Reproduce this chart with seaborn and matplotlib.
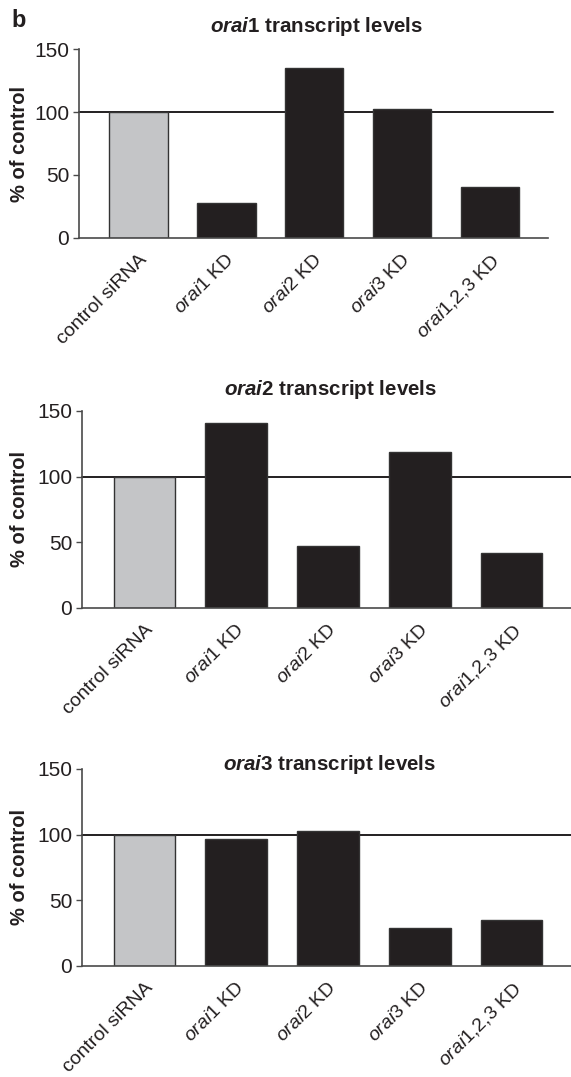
import matplotlib
matplotlib.use("Agg")
import matplotlib.pyplot as plt
import seaborn as sns
import pandas as pd

# ---- data ---------------------------------------------------------------
categories = ["control siRNA", "orai1 KD", "orai2 KD", "orai3 KD", "orai1,2,3 KD"]
tick_labels = ["control siRNA", r"$\mathit{orai}$1 KD", r"$\mathit{orai}$2 KD",
               r"$\mathit{orai}$3 KD", r"$\mathit{orai}$1,2,3 KD"]
orai1_levels = [100, 28, 135, 102.5, 40.5]
orai2_levels = [100, 140.5, 47, 119, 41.8]
orai3_levels = [100, 96.5, 103, 28.6, 34.7]
panel_titles = [r"$\mathbfit{orai}$1 transcript levels",
                r"$\mathbfit{orai}$2 transcript levels",
                r"$\mathbfit{orai}$3 transcript levels"]
y_ticks = [0, 50, 100, 150]
reference_level = 100

# ---- style --------------------------------------------------------------
sns.set_theme(style="white")
plt.rcParams["font.family"] = ["Liberation Sans", "DejaVu Sans"]
plt.rcParams["mathtext.fontset"] = "custom"
plt.rcParams["mathtext.rm"] = "Liberation Sans"
plt.rcParams["mathtext.it"] = "Liberation Sans:italic"
plt.rcParams["mathtext.bf"] = "Liberation Sans:bold"
plt.rcParams["mathtext.bfit"] = "Liberation Sans:italic:bold"

INK = "#231f20"
GREY = "#c4c5c7"
SPINE = "#4a4a4a"
colors = [GREY] + [INK] * 4

W, H = 571, 1077
fig = plt.figure(figsize=(W / 100, H / 100), dpi=100)


def px_axes(left, right, top, bottom):
    return fig.add_axes([left / W, 1 - bottom / H, (right - left) / W, (bottom - top) / H])


panels = [
    # axes box in pixels (left, right, top, bottom), x-limits, title centre/baseline
    dict(box=(79, 548.3, 49.3, 237.7), xlim=(-0.675, 4.665), title=(317, 32),
         values=orai1_levels),
    dict(box=(82, 571, 411, 607.7), xlim=(-0.677, 4.644), title=(331, 395),
         values=orai2_levels),
    dict(box=(82, 571, 769, 965.7), xlim=(-0.677, 4.644), title=(330, 769.5),
         values=orai3_levels),
]

for i, p in enumerate(panels):
    left, right, top, bottom = p["box"]
    ax = px_axes(left, right, top, bottom)
    df = pd.DataFrame({"group": categories, "level": p["values"]})
    sns.barplot(data=df, x="group", y="level", hue="group", palette=colors,
                legend=False, width=0.667, edgecolor="#333333", linewidth=1.0,
                saturation=1, ax=ax, zorder=2)
    ax.axhline(reference_level, xmin=0, xmax=1.009, color=INK, lw=1.4,
               zorder=1, clip_on=False)
    ax.set_xlim(*p["xlim"])
    ax.set_ylim(0, 150)
    ax.set_yticks(y_ticks)
    ax.set_yticklabels([str(t) for t in y_ticks], fontsize=15, color=INK)
    ax.set_xticks(range(len(categories)))
    ax.set_xticklabels(tick_labels, rotation=45, ha="right", va="top",
                       rotation_mode="anchor", fontsize=14, color=INK)
    ax.tick_params(axis="x", length=0, pad=9.5)
    ax.tick_params(axis="y", length=4, width=1, color=SPINE, pad=3,
                   direction="out", left=True)
    for side in ("top", "right"):
        ax.spines[side].set_visible(False)
    for side in ("left", "bottom"):
        ax.spines[side].set_color(SPINE)
        ax.spines[side].set_linewidth(1.2)
    ax.set_xlabel("")
    ax.set_ylabel("% of control", fontsize=14.5, fontweight="bold", color=INK)
    ax.yaxis.set_label_coords((29 - left) / (right - left), 0.5)
    tx, ty = p["title"]
    fig.text(tx / W, 1 - ty / H, panel_titles[i], ha="center", va="baseline",
             fontsize=14.8, fontweight="bold", color=INK)

fig.text(11.5 / W, 1 - 26.7 / H, "b", ha="left", va="baseline", fontsize=17,
         fontweight="bold", color=INK)

fig.savefig("out.png", dpi=100)
